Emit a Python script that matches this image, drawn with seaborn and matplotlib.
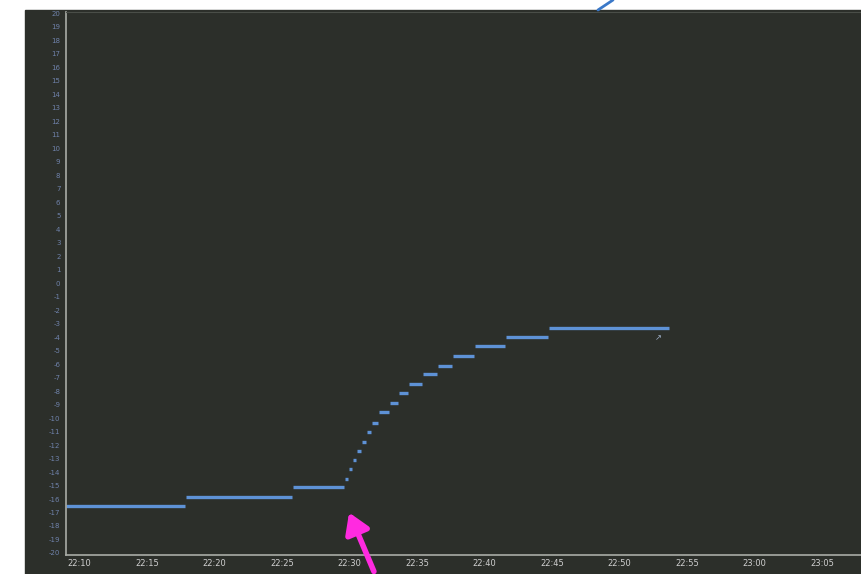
import numpy as np
import pandas as pd
import matplotlib.pyplot as plt
import seaborn as sns
from matplotlib.patches import Rectangle, FancyArrowPatch
from matplotlib.lines import Line2D

# step segments, minutes after 22:00
step_start = [9.0, 17.85, 25.8, 29.63, 29.93, 30.22, 30.52, 30.89, 31.26, 31.63,
              32.15, 32.96, 33.63, 34.37, 35.41, 36.52, 37.63, 39.26, 41.56, 44.74]
step_end = [17.85, 25.8, 29.63, 29.93, 30.22, 30.52, 30.89, 31.26, 31.63, 32.15,
            32.96, 33.63, 34.37, 35.41, 36.52, 37.63, 39.26, 41.56, 44.74, 53.7]
step_value = [-16.5, -15.85, -15.1, -14.5, -13.8, -13.1, -12.45, -11.8, -11.05, -10.4,
              -9.55, -8.9, -8.15, -7.5, -6.75, -6.15, -5.4, -4.65, -4.0, -3.35]

x_ticks = [10, 15, 20, 25, 30, 35, 40, 45, 50, 55, 60, 65]
x_labels = ["22:10", "22:15", "22:20", "22:25", "22:30", "22:35",
            "22:40", "22:45", "22:50", "22:55", "23:00", "23:05"]
y_ticks = list(range(-20, 21))


def main():
    rows = []
    for i, (s, e, v) in enumerate(zip(step_start, step_end, step_value)):
        rows.append({"seg": i, "t": s + 0.02, "v": v})
        rows.append({"seg": i, "t": e - 0.02, "v": v})
    df = pd.DataFrame(rows)

    sns.set_style("dark")
    fig = plt.figure(figsize=(8.61, 5.74), dpi=100)
    fig.patch.set_facecolor("white")

    # dark screen background
    fig.add_artist(Rectangle((25 / 861, 0), 836 / 861, 564 / 574,
                             transform=fig.transFigure, color="#2c2f2a", zorder=0))

    ax = fig.add_axes([66 / 861, 19 / 574, 795 / 861, 543 / 574])
    ax.set_facecolor("#2c2f2a")

    sns.lineplot(data=df, x="t", y="v", units="seg", estimator=None,
                 color="#5e92d6", linewidth=2.4, ax=ax, legend=False,
                 solid_capstyle="butt")

    ax.set_xlim(9.0, 67.9)
    ax.set_ylim(-20.15, 20.1)
    ax.set_xticks(x_ticks)
    ax.set_xticklabels(x_labels)
    ax.set_yticks(y_ticks)
    ax.set_yticklabels([str(v) for v in y_ticks])
    ax.tick_params(axis="x", colors="#cfcfcf", labelsize=6, length=0, pad=3)
    ax.tick_params(axis="y", colors="#6f82aa", labelsize=5, length=0, pad=4)
    ax.set_xlabel("")
    ax.set_ylabel("")
    ax.grid(False)
    for side in ["left", "bottom"]:
        ax.spines[side].set_visible(True)
        ax.spines[side].set_color("#a9aca6")
        ax.spines[side].set_linewidth(1.2)
    ax.spines["top"].set_visible(True)
    ax.spines["top"].set_color("#4a4e48")
    ax.spines["right"].set_visible(False)

    # small mark at end of last step
    ax.text(52.9, -4.05, "↗", color="#9fb0c8", fontsize=6, ha="center", va="center")

    # blue arc at the top
    fig.add_artist(Line2D([598 / 861, 613 / 861], [564 / 574, 1.0],
                          transform=fig.transFigure, color="#3a78c8", linewidth=2))

    # magenta arrow
    arrow = FancyArrowPatch((375, 0), (348, 64), transform=None,
                            arrowstyle="-|>,head_length=8,head_width=5",
                            color="#ff2ae0", linewidth=4, mutation_scale=1.5)
    fig.add_artist(arrow)

    fig.savefig("out.png", dpi=100)


if __name__ == '__main__':
    main()
